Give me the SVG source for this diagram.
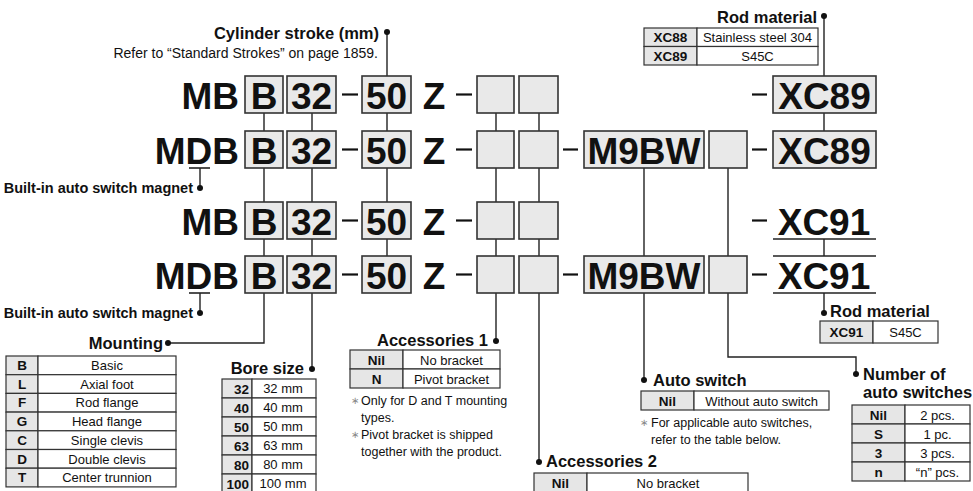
<svg xmlns="http://www.w3.org/2000/svg" width="973" height="491" viewBox="0 0 973 491">
<style>
text{font-family:"Liberation Sans",Arial,Helvetica,sans-serif;fill:#111}
.big{font-size:37px;font-weight:bold}
.h{font-size:16.5px;font-weight:bold}
.m{font-size:14.5px;font-weight:bold}
.r{font-size:14px}
.t{font-size:13px}
.tb{font-size:13.5px;font-weight:bold}
.n{font-size:12.5px}
.ast{fill:#888;font-size:10px}
.box{fill:#e9e9e9;stroke:#333;stroke-width:1.6}
.ln{stroke:#222;stroke-width:1.4;fill:none}
.ul{stroke:#222;stroke-width:1.6}
.dash{stroke:#111;stroke-width:2.2}
.key{fill:#e6e6e6;stroke:#333;stroke-width:1.2}
.cell{fill:#fff;stroke:#333;stroke-width:1.2}
.dot{fill:#111}
.c{text-anchor:middle}
.e{text-anchor:end}
</style>
<g id="connectors">
<path class="ln" d="M200,168V188M200,293V313"/>
<path class="ln" d="M264,113V343H168"/>
<path class="ln" d="M312,113V369"/>
<path class="ln" d="M387,32V256"/>
<path class="ln" d="M496,113V341"/>
<path class="ln" d="M539,113V462"/>
<path class="ln" d="M644,168V380"/>
<path class="ln" d="M728,168V357H856V374"/>
<path class="ln" d="M824,16V131M824,239V256M824,293V313"/>
<circle class="dot" cx="387" cy="32" r="3"/>
<circle class="dot" cx="824" cy="16" r="3"/>
<circle class="dot" cx="200" cy="188" r="3"/>
<circle class="dot" cx="200" cy="313" r="3"/>
<circle class="dot" cx="168" cy="343" r="3"/>
<circle class="dot" cx="312" cy="369" r="3"/>
<circle class="dot" cx="496" cy="341" r="3"/>
<circle class="dot" cx="539" cy="462" r="3"/>
<circle class="dot" cx="644" cy="380" r="3"/>
<circle class="dot" cx="856" cy="374" r="3"/>
<circle class="dot" cx="824" cy="313" r="3"/>
</g>
<g id="row1">
<text class="big e" x="239" y="109">MB</text>
<rect class="box" x="245" y="76" width="38" height="37"/><text class="big c" x="264" y="109">B</text>
<rect class="box" x="287" y="76" width="49" height="37"/><text class="big c" x="311.5" y="109">32</text>
<line class="dash" x1="342" y1="94.5" x2="358" y2="94.5"/>
<rect class="box" x="362" y="76" width="49" height="37"/><text class="big c" x="386.5" y="109">50</text>
<text class="big c" x="434" y="109">Z</text>
<line class="dash" x1="456" y1="94.5" x2="472" y2="94.5"/>
<rect class="box" x="477" y="76" width="37" height="37"/>
<rect class="box" x="519" y="76" width="39" height="37"/>
<line class="dash" x1="752" y1="94.5" x2="767" y2="94.5"/>
<rect class="box" x="773" y="76" width="103" height="37"/><text class="big c" x="824.5" y="109">XC89</text>
</g>
<g id="row2">
<text class="big e" x="239" y="164">MDB</text>
<line class="ul" x1="189" y1="168" x2="210" y2="168"/>
<rect class="box" x="245" y="131" width="38" height="37"/><text class="big c" x="264" y="164">B</text>
<rect class="box" x="287" y="131" width="49" height="37"/><text class="big c" x="311.5" y="164">32</text>
<line class="dash" x1="342" y1="149.5" x2="358" y2="149.5"/>
<rect class="box" x="362" y="131" width="49" height="37"/><text class="big c" x="386.5" y="164">50</text>
<text class="big c" x="434" y="164">Z</text>
<line class="dash" x1="456" y1="149.5" x2="472" y2="149.5"/>
<rect class="box" x="477" y="131" width="37" height="37"/>
<rect class="box" x="519" y="131" width="39" height="37"/>
<line class="dash" x1="563" y1="149.5" x2="578" y2="149.5"/>
<rect class="box" x="584" y="131" width="120" height="37"/><text class="big c" x="644" y="164">M9BW</text>
<rect class="box" x="709" y="131" width="38" height="37"/>
<line class="dash" x1="752" y1="149.5" x2="767" y2="149.5"/>
<rect class="box" x="773" y="131" width="103" height="37"/><text class="big c" x="824.5" y="164">XC89</text>
</g>
<g id="row3">
<text class="big e" x="239" y="235">MB</text>
<rect class="box" x="245" y="202" width="38" height="37"/><text class="big c" x="264" y="235">B</text>
<rect class="box" x="287" y="202" width="49" height="37"/><text class="big c" x="311.5" y="235">32</text>
<line class="dash" x1="342" y1="220.5" x2="358" y2="220.5"/>
<rect class="box" x="362" y="202" width="49" height="37"/><text class="big c" x="386.5" y="235">50</text>
<text class="big c" x="434" y="235">Z</text>
<line class="dash" x1="456" y1="220.5" x2="472" y2="220.5"/>
<rect class="box" x="477" y="202" width="37" height="37"/>
<rect class="box" x="519" y="202" width="39" height="37"/>
<line class="dash" x1="752" y1="220.5" x2="767" y2="220.5"/>
<text class="big c" x="824" y="235">XC91</text>
<line class="ul" x1="773" y1="239" x2="876" y2="239"/>
</g>
<g id="row4">
<text class="big e" x="239" y="289">MDB</text>
<line class="ul" x1="189" y1="293" x2="210" y2="293"/>
<rect class="box" x="245" y="256" width="38" height="37"/><text class="big c" x="264" y="289">B</text>
<rect class="box" x="287" y="256" width="49" height="37"/><text class="big c" x="311.5" y="289">32</text>
<line class="dash" x1="342" y1="274.5" x2="358" y2="274.5"/>
<rect class="box" x="362" y="256" width="49" height="37"/><text class="big c" x="386.5" y="289">50</text>
<text class="big c" x="434" y="289">Z</text>
<line class="dash" x1="456" y1="274.5" x2="472" y2="274.5"/>
<rect class="box" x="477" y="256" width="37" height="37"/>
<rect class="box" x="519" y="256" width="39" height="37"/>
<line class="dash" x1="563" y1="274.5" x2="578" y2="274.5"/>
<rect class="box" x="584" y="256" width="120" height="37"/><text class="big c" x="644" y="289">M9BW</text>
<rect class="box" x="709" y="256" width="38" height="37"/>
<line class="dash" x1="752" y1="274.5" x2="767" y2="274.5"/>
<line class="ul" x1="773" y1="256" x2="876" y2="256"/>
<text class="big c" x="824" y="289">XC91</text>
<line class="ul" x1="773" y1="293" x2="876" y2="293"/>
</g>
<g id="stroke-label">
<text class="h e" x="379" y="39">Cylinder stroke (mm)</text>
<text class="r e" x="378" y="58">Refer to “Standard Strokes” on page 1859.</text>
</g>
<g id="rod-material-top">
<text class="h e" x="817" y="23">Rod material</text>
<rect class="key" x="644" y="28" width="53" height="18.5"/><rect class="cell" x="697" y="28" width="121" height="18.5"/>
<rect class="key" x="644" y="46.5" width="53" height="18.5"/><rect class="cell" x="697" y="46.5" width="121" height="18.5"/>
<text class="tb c" x="670.5" y="42">XC88</text><text class="t c" x="757.5" y="42">Stainless steel 304</text>
<text class="tb c" x="670.5" y="60.5">XC89</text><text class="t c" x="757.5" y="60.5">S45C</text>
</g>
<g id="magnet-label-1"><text class="m e" x="193" y="193">Built-in auto switch magnet</text></g>
<g id="magnet-label-2"><text class="m e" x="193" y="318">Built-in auto switch magnet</text></g>
<g id="mounting">
<text class="h e" x="163" y="349">Mounting</text>
<rect class="key" x="6" y="356" width="32" height="18.7"/><rect class="cell" x="38" y="356" width="138" height="18.7"/>
<rect class="key" x="6" y="374.7" width="32" height="18.7"/><rect class="cell" x="38" y="374.7" width="138" height="18.7"/>
<rect class="key" x="6" y="393.4" width="32" height="18.7"/><rect class="cell" x="38" y="393.4" width="138" height="18.7"/>
<rect class="key" x="6" y="412.1" width="32" height="18.7"/><rect class="cell" x="38" y="412.1" width="138" height="18.7"/>
<rect class="key" x="6" y="430.8" width="32" height="18.7"/><rect class="cell" x="38" y="430.8" width="138" height="18.7"/>
<rect class="key" x="6" y="449.5" width="32" height="18.7"/><rect class="cell" x="38" y="449.5" width="138" height="18.7"/>
<rect class="key" x="6" y="468.2" width="32" height="18.7"/><rect class="cell" x="38" y="468.2" width="138" height="18.7"/>
<text class="tb c" x="22" y="370">B</text><text class="t c" x="107" y="370">Basic</text>
<text class="tb c" x="22" y="388.7">L</text><text class="t c" x="107" y="388.7">Axial foot</text>
<text class="tb c" x="22" y="407.4">F</text><text class="t c" x="107" y="407.4">Rod flange</text>
<text class="tb c" x="22" y="426.1">G</text><text class="t c" x="107" y="426.1">Head flange</text>
<text class="tb c" x="22" y="444.8">C</text><text class="t c" x="107" y="444.8">Single clevis</text>
<text class="tb c" x="22" y="463.5">D</text><text class="t c" x="107" y="463.5">Double clevis</text>
<text class="tb c" x="22" y="482.2">T</text><text class="t c" x="107" y="482.2">Center trunnion</text>
</g>
<g id="bore-size">
<text class="h e" x="304" y="374">Bore size</text>
<rect class="key" x="222" y="379" width="30" height="19"/><rect class="cell" x="252" y="379" width="64" height="19"/>
<rect class="key" x="222" y="398" width="30" height="19"/><rect class="cell" x="252" y="398" width="64" height="19"/>
<rect class="key" x="222" y="417" width="30" height="19"/><rect class="cell" x="252" y="417" width="64" height="19"/>
<rect class="key" x="222" y="436" width="30" height="19"/><rect class="cell" x="252" y="436" width="64" height="19"/>
<rect class="key" x="222" y="455" width="30" height="19"/><rect class="cell" x="252" y="455" width="64" height="19"/>
<rect class="key" x="222" y="474" width="30" height="19"/><rect class="cell" x="252" y="474" width="64" height="19"/>
<text class="tb e" x="249" y="394">32</text><text class="t c" x="283" y="393">32 mm</text>
<text class="tb e" x="249" y="413">40</text><text class="t c" x="283" y="412">40 mm</text>
<text class="tb e" x="249" y="432">50</text><text class="t c" x="283" y="431">50 mm</text>
<text class="tb e" x="249" y="451">63</text><text class="t c" x="283" y="450">63 mm</text>
<text class="tb e" x="249" y="470">80</text><text class="t c" x="283" y="469">80 mm</text>
<text class="tb e" x="249" y="489">100</text><text class="t c" x="283" y="488">100 mm</text>
</g>
<g id="accessories-1">
<text class="h e" x="488" y="346">Accessories 1</text>
<rect class="key" x="350" y="350" width="53" height="19"/><rect class="cell" x="403" y="350" width="97" height="19"/>
<rect class="key" x="350" y="369" width="53" height="19"/><rect class="cell" x="403" y="369" width="97" height="19"/>
<text class="tb c" x="376.5" y="364.5">Nil</text><text class="t c" x="451.5" y="364.5">No bracket</text>
<text class="tb c" x="376.5" y="383.5">N</text><text class="t c" x="451.5" y="383.5">Pivot bracket</text>
<text class="ast" x="351" y="404">∗</text><text class="n" x="361" y="405">Only for D and T mounting</text>
<text class="n" x="361" y="422">types.</text>
<text class="ast" x="351" y="438">∗</text><text class="n" x="361" y="439">Pivot bracket is shipped</text>
<text class="n" x="361" y="456">together with the product.</text>
</g>
<g id="accessories-2">
<text class="h" x="546" y="467">Accessories 2</text>
<rect class="key" x="534" y="473" width="53" height="19"/><rect class="cell" x="587" y="473" width="161" height="19"/>
<text class="tb c" x="560.5" y="487.5">Nil</text><text class="t c" x="668" y="487.5">No bracket</text>
</g>
<g id="auto-switch">
<text class="h" x="653" y="386">Auto switch</text>
<rect class="key" x="641" y="391" width="53" height="19"/><rect class="cell" x="694" y="391" width="135" height="19"/>
<text class="tb c" x="667.5" y="405.5">Nil</text><text class="t c" x="761.5" y="405.5">Without auto switch</text>
<text class="ast" x="640" y="426">∗</text><text class="n" x="651" y="427">For applicable auto switches,</text>
<text class="n" x="651" y="444">refer to the table below.</text>
</g>
<g id="number-of-switches">
<text class="h" x="863" y="380">Number of</text>
<text class="h" x="863" y="398">auto switches</text>
<rect class="key" x="852" y="405" width="53" height="19"/><rect class="cell" x="905" y="405" width="65" height="19"/>
<rect class="key" x="852" y="424" width="53" height="19"/><rect class="cell" x="905" y="424" width="65" height="19"/>
<rect class="key" x="852" y="443" width="53" height="19"/><rect class="cell" x="905" y="443" width="65" height="19"/>
<rect class="key" x="852" y="462" width="53" height="19"/><rect class="cell" x="905" y="462" width="65" height="19"/>
<text class="tb c" x="878.5" y="419.5">Nil</text><text class="t c" x="937.5" y="419.5">2 pcs.</text>
<text class="tb c" x="878.5" y="438.5">S</text><text class="t c" x="937.5" y="438.5">1 pc.</text>
<text class="tb c" x="878.5" y="457.5">3</text><text class="t c" x="937.5" y="457.5">3 pcs.</text>
<text class="tb c" x="878.5" y="476.5">n</text><text class="t c" x="937.5" y="476.5">“n” pcs.</text>
</g>
<g id="rod-material-bottom">
<text class="h" x="830" y="317">Rod material</text>
<rect class="key" x="820" y="321" width="53" height="22"/><rect class="cell" x="873" y="321" width="65" height="22"/>
<text class="tb c" x="846.5" y="337">XC91</text><text class="t c" x="905.5" y="337">S45C</text>
</g>
</svg>
